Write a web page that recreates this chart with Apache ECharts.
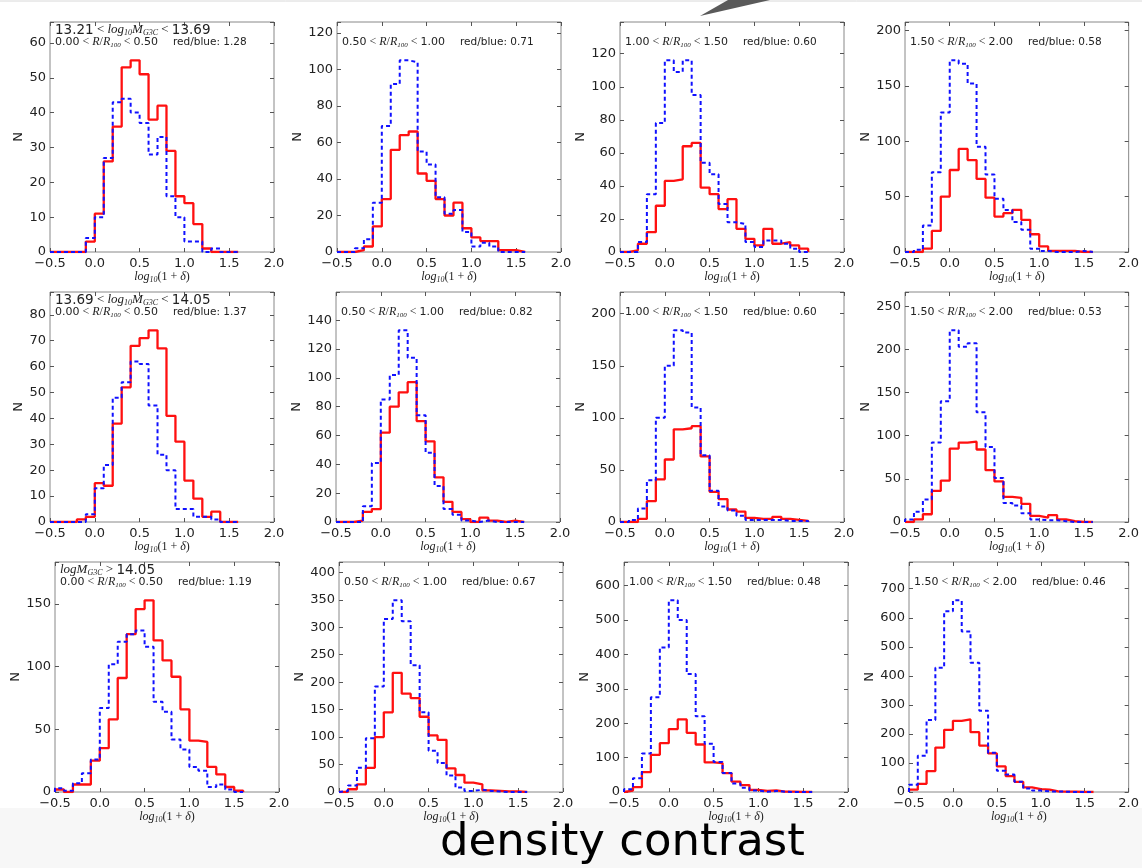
<!DOCTYPE html>
<html>
<head>
<meta charset="utf-8">
<script src="https://cdn.jsdelivr.net/npm/echarts@6/dist/echarts.min.js"></script>
<style>html,body{margin:0;padding:0;background:#fff}#c{width:1142px;height:868px}</style>
</head>
<body>
<div id="c"></div>
<script>
// ---------- DATA ----------
const binEdges = [-0.5,-0.4,-0.3,-0.2,-0.1,0.0,0.1,0.2,0.3,0.4,0.5,0.6,0.7,0.8,0.9,1.0,1.1,1.2,1.3,1.4,1.5,1.6];
const xTicks = [-0.5, 0.0, 0.5, 1.0, 1.5, 2.0];

// row 1: 13.21 < logM < 13.69
const red_r1c1  = [0,0,0,0,3,11,26,36,53,55,51,38,42,29,16,14,8,1,0,0,0];
const blue_r1c1 = [0,0,0,0,4,10,27,43,44,40,37,28,33,16,10,3,3,0,1,0,0];
const red_r1c2  = [0,0,1,3,14,29,56,64,66,43,39,29,20,27,13,8,6,6,1,1,0];
const blue_r1c2 = [0,0,2,7,27,69,92,105,104,55,48,30,21,23,11,3,5,3,0,0,0];
const red_r1c3  = [0,1,5,12,28,43,44,64,66,39,35,26,32,14,8,4,14,5,6,4,2];
const blue_r1c3 = [0,0,6,35,78,116,109,116,95,54,47,29,18,17,6,3,7,7,5,2,0];
const red_r1c4  = [0,0,3,19,50,74,93,83,66,49,32,35,38,29,16,5,1,1,1,0,0];
const blue_r1c4 = [0,2,24,72,126,173,170,152,95,70,48,38,27,20,3,1,0,0,0,1,0];
// row 2: 13.69 < logM < 14.05
const red_r2c1  = [0,0,0,1,2,15,14,38,52,68,71,74,67,41,31,16,9,2,4,0,0];
const blue_r2c1 = [0,0,0,0,3,13,22,48,54,62,61,45,26,20,5,5,2,2,1,0,0];
const red_r2c2  = [0,0,1,7,9,62,80,90,97,70,56,31,14,7,2,0,3,1,0,1,0];
const blue_r2c2 = [0,0,0,11,41,85,102,133,114,74,48,25,9,5,1,0,1,0,0,0,0];
const red_r2c3  = [0,0,3,20,41,60,89,90,92,63,29,22,12,10,4,3,3,5,3,2,1];
const blue_r2c3 = [0,2,13,40,100,150,184,182,110,64,30,15,11,6,2,2,2,2,1,1,1];
const red_r2c4  = [0,3,9,36,48,85,92,93,84,60,47,29,28,21,7,5,8,3,1,0,0];
const blue_r2c4 = [3,12,26,92,140,222,203,207,127,87,51,22,19,10,3,2,2,1,0,0,0];
// row 3: logM > 14.05
const red_r3c1  = [2,0,6,6,25,35,58,91,126,146,153,121,105,92,66,41,40,20,14,4,1];
const blue_r3c1 = [3,1,7,15,26,67,102,120,126,129,116,72,64,42,34,20,17,4,6,2,0];
const red_r3c2  = [0,5,14,44,100,145,217,179,171,137,103,95,43,31,17,14,3,2,1,1,0];
const blue_r3c2 = [2,12,44,98,192,315,349,311,231,145,75,53,30,8,2,4,2,1,0,0,0];
const red_r3c3  = [4,14,58,108,142,183,211,172,138,86,84,55,30,20,6,3,5,1,1,0,0];
const blue_r3c3 = [8,40,112,275,420,557,500,343,220,140,87,55,25,12,4,1,3,1,0,0,0];
const red_r3c4  = [8,28,72,153,214,245,250,206,160,133,88,55,35,16,10,8,2,1,1,0,0];
const blue_r3c4 = [25,125,248,428,622,660,553,445,280,135,73,60,35,12,5,2,2,1,0,0,0];

const yTickStep = [[10,20,20,50],[10,20,50,50],[50,50,100,100]];
const massLabels = [
  '{n|13.21}{m| < }{i|log}{s|10}{i|M}{s|G3C}{m| < }{n|13.69}',
  '{n|13.69}{m| < }{i|log}{s|10}{i|M}{s|G3C}{m| < }{n|14.05}',
  '{i|logM}{s|G3C}{m| > }{n|14.05}'
];
const radiusLow  = ['0.00','0.50','1.00','1.50'];
const radiusHigh = ['0.50','1.00','1.50','2.00'];
const ratios = [['1.28','0.71','0.60','0.58'],['1.37','0.82','0.60','0.53'],['1.19','0.67','0.48','0.46']];
const bottomTitle = 'density contrast';

const reds  = [[red_r1c1,red_r1c2,red_r1c3,red_r1c4],[red_r2c1,red_r2c2,red_r2c3,red_r2c4],[red_r3c1,red_r3c2,red_r3c3,red_r3c4]];
const blues = [[blue_r1c1,blue_r1c2,blue_r1c3,blue_r1c4],[blue_r2c1,blue_r2c2,blue_r2c3,blue_r2c4],[blue_r3c1,blue_r3c2,blue_r3c3,blue_r3c4]];

// ---------- LAYOUT ----------
const colLefts = [[50,337,620,905],[50,336,620,905],[55,339,624,909]];
const rowTops = [22,292,562];
const gw = 224, gh = 230;

function stepData(vals){
  const d = [[binEdges[0],0]];
  for (let i=0;i<vals.length;i++) d.push([binEdges[i], vals[i]]);
  d.push([binEdges[binEdges.length-1], 0]);
  return d;
}
const fmtX = v => (v < 0 ? '\u2212' : '') + Math.abs(v).toFixed(1);

const serif = '"Liberation Serif", "DejaVu Serif", serif';
const sans = '"DejaVu Sans", sans-serif';
const base = {color:'#222', fontWeight:'normal'};
const richText = {
  n: Object.assign({fontFamily: sans, fontSize: 13.5, lineHeight: 14, verticalAlign:'middle'}, base),
  m: Object.assign({fontFamily: serif, fontSize: 13, lineHeight: 14, verticalAlign:'middle'}, base),
  i: Object.assign({fontFamily: serif, fontStyle:'italic', fontSize: 13, lineHeight: 14, verticalAlign:'middle'}, base),
  s: Object.assign({fontFamily: serif, fontStyle:'italic', fontSize: 8, lineHeight: 8, verticalAlign:'bottom', padding:[5,0,0,0]}, base)
};
const richR = {
  r: Object.assign({fontFamily: sans, fontSize: 11, lineHeight: 14, verticalAlign:'middle'}, base),
  m: Object.assign({fontFamily: serif, fontSize: 12, lineHeight: 14, verticalAlign:'middle'}, base),
  i: Object.assign({fontFamily: serif, fontStyle:'italic', fontSize: 12, lineHeight: 14, verticalAlign:'middle'}, base),
  s: Object.assign({fontFamily: serif, fontStyle:'italic', fontSize: 7, lineHeight: 7, verticalAlign:'bottom', padding:[5,0,0,0]}, base)
};
const richX = {
  i: Object.assign({fontFamily: serif, fontStyle:'italic', fontSize: 12, lineHeight: 14, verticalAlign:'middle'}, base),
  r: Object.assign({fontFamily: serif, fontSize: 12, lineHeight: 14, verticalAlign:'middle'}, base),
  s: Object.assign({fontFamily: serif, fontStyle:'italic', fontSize: 8, lineHeight: 8, verticalAlign:'bottom', padding:[5,0,0,0]}, base)
};

const grids = [], xAxes = [], yAxes = [], series = [], titles = [];
const frame = '#888';
for (let r=0;r<3;r++){
  for (let c=0;c<4;c++){
    const left = colLefts[r][c], top = rowTops[r];
    const gi = grids.length;
    grids.push({left:left, top:top, width:gw, height:gh, show:true, borderColor:frame, borderWidth:1, backgroundColor:'transparent'});
    const red = reds[r][c], blue = blues[r][c];
    const ymax = Math.max(...red, ...blue) * 1.2;
    const step = yTickStep[r][c];
    const maxTick = Math.floor(ymax/step)*step;
    const digits = String(maxTick).length;
    const tickStyle = {show:true, inside:true, length:4, lineStyle:{color:'#555', width:1}};
    const noLine = {show:false, onZero:false};
    xAxes.push({gridIndex:gi, type:'value', position:'bottom', min:-0.5, max:2.0, interval:0.5,
      axisLine:noLine, splitLine:{show:false}, axisTick:tickStyle,
      axisLabel:{formatter:fmtX, fontFamily:sans, fontSize:13, color:'#222', margin:5},
      name:'{i|log}{s|10}{r|(1 + }{i|\u03b4}{r|)}', nameLocation:'middle', nameGap:17,
      nameTextStyle:{rich:richX}});
    xAxes.push({gridIndex:gi, type:'value', position:'top', min:-0.5, max:2.0, interval:0.5,
      axisLine:noLine, splitLine:{show:false}, axisTick:tickStyle, axisLabel:{show:false}});
    yAxes.push({gridIndex:gi, type:'value', position:'left', min:0, max:ymax, interval:step,
      axisLine:noLine, splitLine:{show:false}, axisTick:tickStyle,
      axisLabel:{fontFamily:sans, fontSize:13, color:'#222', margin:4,
        formatter: v => (Math.abs(v/step - Math.round(v/step)) < 1e-6) ? String(Math.round(v)) : ''},
      name:'N', nameLocation:'middle', nameGap: 7.5*digits + 8, nameRotate:90,
      nameTextStyle:{fontFamily:sans, fontSize:13, color:'#222'}});
    yAxes.push({gridIndex:gi, type:'value', position:'right', min:0, max:ymax, interval:step,
      axisLine:noLine, splitLine:{show:false}, axisTick:tickStyle, axisLabel:{show:false}});
    const xi = 2*gi, yi = 2*gi;
    series.push({type:'line', xAxisIndex:xi, yAxisIndex:yi, data:stepData(red), step:'end', symbol:'none',
      lineStyle:{color:'#ff1010', width:2.3}, silent:true, animation:false, z:2});
    series.push({type:'line', xAxisIndex:xi, yAxisIndex:yi, data:stepData(blue), step:'end', symbol:'none',
      lineStyle:{color:'#1010ff', width:2, type:[4,3]}, silent:true, animation:false, z:3});
    // annotations
    if (c === 0){
      titles.push({left:left+5, top:top+1, padding:0, text:massLabels[r], textStyle:{rich:richText, fontWeight:'normal'}});
    }
    titles.push({left:left+5, top:top+13, padding:0,
      text:'{r|'+radiusLow[c]+'}{m| < }{i|R}{m|/}{i|R}{s|100}{m| < }{r|'+radiusHigh[c]+'}', textStyle:{rich:richR, fontWeight:'normal'}});
    titles.push({left:left+123, top:top+13, padding:0, text:'red/blue: '+ratios[r][c],
      textStyle:{fontFamily:sans, fontSize:10.5, fontWeight:'normal', color:'#222', lineHeight:14}});
  }
}
titles.push({left:440, top:821, padding:0, text:bottomTitle,
  textStyle:{fontFamily:sans, fontSize:45, fontWeight:'normal', color:'#000'}});

const chart = echarts.init(document.getElementById('c'), null, {renderer:'canvas'});
chart.setOption({
  animation:false,
  backgroundColor:'#fff',
  title: titles,
  grid: grids, xAxis: xAxes, yAxis: yAxes, series: series,
  graphic: [
    {type:'rect', left:0, top:808, shape:{width:1142, height:60}, style:{fill:'#f7f7f7'}, z:-10, silent:true},
    {type:'line', shape:{x1:0,y1:1,x2:1142,y2:1}, style:{stroke:'#d8d8d8', lineWidth:1}, silent:true},
    {type:'polygon', shape:{points:[[700,16],[770,0],[728,0]]}, style:{fill:'#5a5a5a'}, silent:true}
  ]
});
</script>
</body>
</html>
